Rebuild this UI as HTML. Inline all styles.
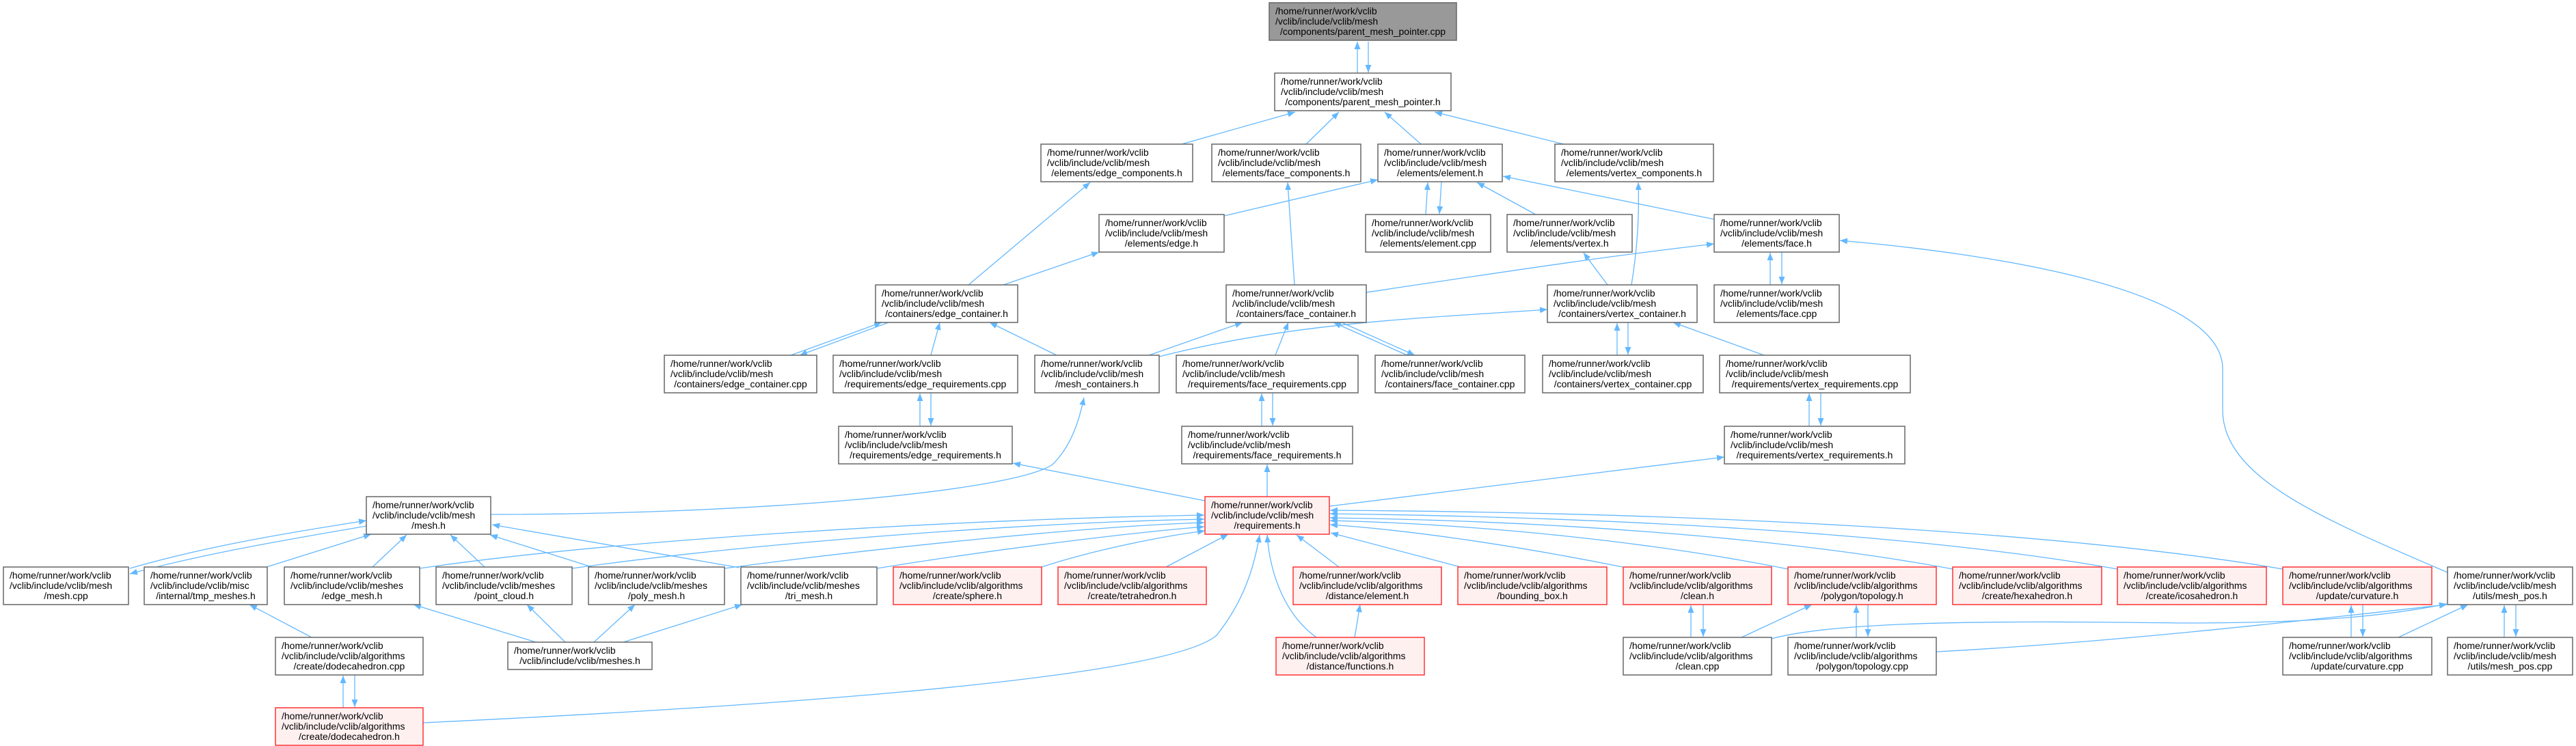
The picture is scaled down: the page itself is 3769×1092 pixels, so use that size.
<!DOCTYPE html>
<html><head><meta charset="utf-8"><style>
html,body{margin:0;padding:0;background:#fff;}
svg{display:block;}
text{font-family:"Liberation Sans",sans-serif;font-size:14px;fill:#000;}
.n{fill:#fff;stroke:#666;stroke-width:1.5;}
.r{fill:#fff0f0;stroke:#f33;stroke-width:1.5;}
.g{fill:#999;stroke:#666;stroke-width:1.5;}
.e{fill:none;stroke:#63b8ff;stroke-width:1.3;marker-end:url(#a);}
.m{text-anchor:middle;}
</style></head><body>
<svg width="3769" height="1092" viewBox="0 0 3769 1092" xmlns="http://www.w3.org/2000/svg">
<defs><marker id="a" markerUnits="userSpaceOnUse" markerWidth="12" markerHeight="9" refX="11" refY="4.5" orient="auto"><path d="M0,0 L11,4.5 L0,9 z" fill="#63b8ff"/></marker></defs>

<!-- edges -->
<path class="e" d="M1986,107 L1986,61"/>
<path class="e" d="M2002,61 L2002,106"/>
<path class="e" d="M1729,211 L1895,164"/>
<path class="e" d="M1911,211 L1959,164"/>
<path class="e" d="M2079,211 L2026,164"/>
<path class="e" d="M2288,211 L2099,164"/>
<path class="e" d="M1791,316 L2016,263"/>
<path class="e" d="M2086,314 L2089,267"/>
<path class="e" d="M2109,266 L2106,313"/>
<path class="e" d="M2247,314 L2161,267"/>
<path class="e" d="M2508,321 L2199,258"/>
<path class="e" d="M1417,417 L1595,267"/>
<path class="e" d="M1468,417 L1608,369"/>
<path class="e" d="M1894,417 L1884,267"/>
<path class="e" d="M1999,428 C2200,398 2350,375 2508,357"/>
<path class="e" d="M2352,417 L2317,370"/>
<path class="e" d="M2387,417 C2398,350 2398,300 2397,267"/>
<path class="e" d="M2590,417 L2590,370"/>
<path class="e" d="M2607,369 L2607,416"/>
<path class="e" d="M3581,838 C3400,760 3252,700 3252,600 L3252,540 C3252,420 2900,370 2692,352"/>
<path class="e" d="M1157,520 L1290,472"/>
<path class="e" d="M1300,472 L1170,520"/>
<path class="e" d="M1362,520 L1375,472"/>
<path class="e" d="M1546,520 L1448,472"/>
<path class="e" d="M1681,520 L1818,472"/>
<path class="e" d="M1696,522 C1900,470 2100,465 2264,453"/>
<path class="e" d="M1866,520 L1885,472"/>
<path class="e" d="M2059,520 L1951,472"/>
<path class="e" d="M1963,472 L2070,520"/>
<path class="e" d="M2366,520 L2366,473"/>
<path class="e" d="M2382,472 L2382,519"/>
<path class="e" d="M2581,520 L2448,472"/>
<path class="e" d="M1346,624 L1346,576"/>
<path class="e" d="M1362,575 L1362,623"/>
<path class="e" d="M1846,624 L1846,576"/>
<path class="e" d="M1862,575 L1862,623"/>
<path class="e" d="M2647,624 L2647,576"/>
<path class="e" d="M2664,575 L2664,623"/>
<path class="e" d="M718,753 C1100,753 1480,720 1540,680 C1570,650 1580,610 1586,582"/>
<path class="e" d="M1763,733 L1482,678"/>
<path class="e" d="M1854,727 L1854,680"/>
<path class="e" d="M1945,741 L2523,669"/>
<path class="e" d="M190,832 C300,800 420,780 536,762"/>
<path class="e" d="M536,770 C420,790 300,810 190,840"/>
<path class="e" d="M390,830 L543,782"/>
<path class="e" d="M545,830 L595,783"/>
<path class="e" d="M709,830 L659,783"/>
<path class="e" d="M866,830 L717,783"/>
<path class="e" d="M1082,831 L720,768"/>
<path class="e" d="M614,832 C900,790 1400,760 1762,754"/>
<path class="e" d="M837,832 C1100,795 1500,765 1762,760"/>
<path class="e" d="M1060,832 C1300,800 1600,770 1762,765"/>
<path class="e" d="M1283,832 C1450,805 1650,780 1762,771"/>
<path class="e" d="M1524,830 C1600,805 1700,785 1763,777"/>
<path class="e" d="M1706,830 L1797,782"/>
<path class="e" d="M1959,830 L1897,783"/>
<path class="e" d="M2137,830 L1947,780"/>
<path class="e" d="M2374,830 C2200,795 2050,775 1946,768"/>
<path class="e" d="M2616,833 C2400,790 2150,767 1946,762"/>
<path class="e" d="M2857,833 C2600,785 2250,762 1946,758"/>
<path class="e" d="M3098,833 C2800,780 2350,757 1946,752"/>
<path class="e" d="M3340,833 C3000,775 2450,750 1946,747"/>
<path class="e" d="M1926,933 C1880,900 1858,840 1854,783"/>
<path class="e" d="M1982,933 L1990,885"/>
<path class="e" d="M619,1058 C1000,1040 1700,1000 1780,930 C1820,880 1835,830 1843,783"/>
<path class="e" d="M502,1036 L502,989"/>
<path class="e" d="M519,988 L519,1035"/>
<path class="e" d="M456,933 L365,885"/>
<path class="e" d="M784,940 L605,885"/>
<path class="e" d="M827,940 L771,885"/>
<path class="e" d="M869,940 L929,885"/>
<path class="e" d="M912,940 L1086,885"/>
<path class="e" d="M2474,933 L2474,886"/>
<path class="e" d="M2492,885 L2492,932"/>
<path class="e" d="M2548,933 L2651,885"/>
<path class="e" d="M2592,935 C2700,905 3000,910 3200,912 C3400,912 3500,900 3580,884"/>
<path class="e" d="M2716,933 L2716,886"/>
<path class="e" d="M2733,885 L2733,932"/>
<path class="e" d="M2833,954 C3100,940 3400,905 3580,885"/>
<path class="e" d="M3440,933 L3440,886"/>
<path class="e" d="M3457,885 L3457,932"/>
<path class="e" d="M3509,933 L3611,885"/>
<path class="e" d="M3664,933 L3664,886"/>
<path class="e" d="M3681,885 L3681,932"/>

<!-- nodes -->
<rect class="g" x="1857" y="4" width="274" height="55"/>
<text x="1866" y="21">/home/runner/work/vclib</text><text x="1866" y="36">/vclib/include/vclib/mesh</text><text class="m" x="1994" y="51">/components/parent_mesh_pointer.cpp</text>

<rect class="n" x="1865" y="107" width="258" height="55"/>
<text x="1874" y="124">/home/runner/work/vclib</text><text x="1874" y="139">/vclib/include/vclib/mesh</text><text class="m" x="1994" y="154">/components/parent_mesh_pointer.h</text>

<rect class="n" x="1523" y="211" width="222" height="55"/>
<text x="1532" y="228">/home/runner/work/vclib</text><text x="1532" y="243">/vclib/include/vclib/mesh</text><text class="m" x="1634" y="258">/elements/edge_components.h</text>

<rect class="n" x="1773" y="211" width="218" height="55"/>
<text x="1782" y="228">/home/runner/work/vclib</text><text x="1782" y="243">/vclib/include/vclib/mesh</text><text class="m" x="1882" y="258">/elements/face_components.h</text>

<rect class="n" x="2016" y="211" width="182" height="55"/>
<text x="2025" y="228">/home/runner/work/vclib</text><text x="2025" y="243">/vclib/include/vclib/mesh</text><text class="m" x="2107" y="258">/elements/element.h</text>

<rect class="n" x="2275" y="211" width="232" height="55"/>
<text x="2284" y="228">/home/runner/work/vclib</text><text x="2284" y="243">/vclib/include/vclib/mesh</text><text class="m" x="2391" y="258">/elements/vertex_components.h</text>

<rect class="n" x="1608" y="314" width="183" height="55"/>
<text x="1617" y="331">/home/runner/work/vclib</text><text x="1617" y="346">/vclib/include/vclib/mesh</text><text class="m" x="1699.5" y="361">/elements/edge.h</text>

<rect class="n" x="1998" y="314" width="183" height="55"/>
<text x="2007" y="331">/home/runner/work/vclib</text><text x="2007" y="346">/vclib/include/vclib/mesh</text><text class="m" x="2089.5" y="361">/elements/element.cpp</text>

<rect class="n" x="2205" y="314" width="183" height="55"/>
<text x="2214" y="331">/home/runner/work/vclib</text><text x="2214" y="346">/vclib/include/vclib/mesh</text><text class="m" x="2296.5" y="361">/elements/vertex.h</text>

<rect class="n" x="2508" y="314" width="183" height="55"/>
<text x="2517" y="331">/home/runner/work/vclib</text><text x="2517" y="346">/vclib/include/vclib/mesh</text><text class="m" x="2599.5" y="361">/elements/face.h</text>

<rect class="n" x="1281" y="417" width="208" height="55"/>
<text x="1290" y="434">/home/runner/work/vclib</text><text x="1290" y="449">/vclib/include/vclib/mesh</text><text class="m" x="1385" y="464">/containers/edge_container.h</text>

<rect class="n" x="1794" y="417" width="205" height="55"/>
<text x="1803" y="434">/home/runner/work/vclib</text><text x="1803" y="449">/vclib/include/vclib/mesh</text><text class="m" x="1896.5" y="464">/containers/face_container.h</text>

<rect class="n" x="2264" y="417" width="219" height="55"/>
<text x="2273" y="434">/home/runner/work/vclib</text><text x="2273" y="449">/vclib/include/vclib/mesh</text><text class="m" x="2373.5" y="464">/containers/vertex_container.h</text>

<rect class="n" x="2508" y="417" width="183" height="55"/>
<text x="2517" y="434">/home/runner/work/vclib</text><text x="2517" y="449">/vclib/include/vclib/mesh</text><text class="m" x="2599.5" y="464">/elements/face.cpp</text>

<rect class="n" x="972" y="520" width="223" height="55"/>
<text x="981" y="537">/home/runner/work/vclib</text><text x="981" y="552">/vclib/include/vclib/mesh</text><text class="m" x="1083.5" y="567">/containers/edge_container.cpp</text>

<rect class="n" x="1219" y="520" width="270" height="55"/>
<text x="1228" y="537">/home/runner/work/vclib</text><text x="1228" y="552">/vclib/include/vclib/mesh</text><text class="m" x="1354" y="567">/requirements/edge_requirements.cpp</text>

<rect class="n" x="1514" y="520" width="182" height="55"/>
<text x="1523" y="537">/home/runner/work/vclib</text><text x="1523" y="552">/vclib/include/vclib/mesh</text><text class="m" x="1605" y="567">/mesh_containers.h</text>

<rect class="n" x="1721" y="520" width="266" height="55"/>
<text x="1730" y="537">/home/runner/work/vclib</text><text x="1730" y="552">/vclib/include/vclib/mesh</text><text class="m" x="1854" y="567">/requirements/face_requirements.cpp</text>

<rect class="n" x="2012" y="520" width="219" height="55"/>
<text x="2021" y="537">/home/runner/work/vclib</text><text x="2021" y="552">/vclib/include/vclib/mesh</text><text class="m" x="2121.5" y="567">/containers/face_container.cpp</text>

<rect class="n" x="2257" y="520" width="235" height="55"/>
<text x="2266" y="537">/home/runner/work/vclib</text><text x="2266" y="552">/vclib/include/vclib/mesh</text><text class="m" x="2374.5" y="567">/containers/vertex_container.cpp</text>

<rect class="n" x="2516" y="520" width="279" height="55"/>
<text x="2525" y="537">/home/runner/work/vclib</text><text x="2525" y="552">/vclib/include/vclib/mesh</text><text class="m" x="2655.5" y="567">/requirements/vertex_requirements.cpp</text>

<rect class="n" x="1227" y="624" width="254" height="55"/>
<text x="1236" y="641">/home/runner/work/vclib</text><text x="1236" y="656">/vclib/include/vclib/mesh</text><text class="m" x="1354" y="671">/requirements/edge_requirements.h</text>

<rect class="n" x="1729" y="624" width="250" height="55"/>
<text x="1738" y="641">/home/runner/work/vclib</text><text x="1738" y="656">/vclib/include/vclib/mesh</text><text class="m" x="1854" y="671">/requirements/face_requirements.h</text>

<rect class="n" x="2523" y="624" width="264" height="55"/>
<text x="2532" y="641">/home/runner/work/vclib</text><text x="2532" y="656">/vclib/include/vclib/mesh</text><text class="m" x="2655" y="671">/requirements/vertex_requirements.h</text>

<rect class="n" x="536" y="727" width="182" height="55"/>
<text x="545" y="744">/home/runner/work/vclib</text><text x="545" y="759">/vclib/include/vclib/mesh</text><text class="m" x="627" y="774">/mesh.h</text>

<rect class="r" x="1763" y="727" width="182" height="55"/>
<text x="1772" y="744">/home/runner/work/vclib</text><text x="1772" y="759">/vclib/include/vclib/mesh</text><text class="m" x="1854" y="774">/requirements.h</text>

<rect class="n" x="5" y="830" width="183" height="55"/>
<text x="14" y="847">/home/runner/work/vclib</text><text x="14" y="862">/vclib/include/vclib/mesh</text><text class="m" x="96.5" y="877">/mesh.cpp</text>

<rect class="n" x="211" y="830" width="180" height="55"/>
<text x="220" y="847">/home/runner/work/vclib</text><text x="220" y="862">/vclib/include/vclib/misc</text><text class="m" x="301" y="877">/internal/tmp_meshes.h</text>

<rect class="n" x="416" y="830" width="198" height="55"/>
<text x="425" y="847">/home/runner/work/vclib</text><text x="425" y="862">/vclib/include/vclib/meshes</text><text class="m" x="515" y="877">/edge_mesh.h</text>

<rect class="n" x="638" y="830" width="199" height="55"/>
<text x="647" y="847">/home/runner/work/vclib</text><text x="647" y="862">/vclib/include/vclib/meshes</text><text class="m" x="737.5" y="877">/point_cloud.h</text>

<rect class="n" x="861" y="830" width="199" height="55"/>
<text x="870" y="847">/home/runner/work/vclib</text><text x="870" y="862">/vclib/include/vclib/meshes</text><text class="m" x="960.5" y="877">/poly_mesh.h</text>

<rect class="n" x="1084" y="830" width="199" height="55"/>
<text x="1093" y="847">/home/runner/work/vclib</text><text x="1093" y="862">/vclib/include/vclib/meshes</text><text class="m" x="1183.5" y="877">/tri_mesh.h</text>

<rect class="r" x="1307" y="830" width="217" height="55"/>
<text x="1316" y="847">/home/runner/work/vclib</text><text x="1316" y="862">/vclib/include/vclib/algorithms</text><text class="m" x="1415.5" y="877">/create/sphere.h</text>

<rect class="r" x="1548" y="830" width="217" height="55"/>
<text x="1557" y="847">/home/runner/work/vclib</text><text x="1557" y="862">/vclib/include/vclib/algorithms</text><text class="m" x="1656.5" y="877">/create/tetrahedron.h</text>

<rect class="r" x="1892" y="830" width="217" height="55"/>
<text x="1901" y="847">/home/runner/work/vclib</text><text x="1901" y="862">/vclib/include/vclib/algorithms</text><text class="m" x="2000.5" y="877">/distance/element.h</text>

<rect class="r" x="2133" y="830" width="218" height="55"/>
<text x="2142" y="847">/home/runner/work/vclib</text><text x="2142" y="862">/vclib/include/vclib/algorithms</text><text class="m" x="2242" y="877">/bounding_box.h</text>

<rect class="r" x="2375" y="830" width="217" height="55"/>
<text x="2384" y="847">/home/runner/work/vclib</text><text x="2384" y="862">/vclib/include/vclib/algorithms</text><text class="m" x="2483.5" y="877">/clean.h</text>

<rect class="r" x="2616" y="830" width="217" height="55"/>
<text x="2625" y="847">/home/runner/work/vclib</text><text x="2625" y="862">/vclib/include/vclib/algorithms</text><text class="m" x="2724.5" y="877">/polygon/topology.h</text>

<rect class="r" x="2857" y="830" width="218" height="55"/>
<text x="2866" y="847">/home/runner/work/vclib</text><text x="2866" y="862">/vclib/include/vclib/algorithms</text><text class="m" x="2966" y="877">/create/hexahedron.h</text>

<rect class="r" x="3098" y="830" width="218" height="55"/>
<text x="3107" y="847">/home/runner/work/vclib</text><text x="3107" y="862">/vclib/include/vclib/algorithms</text><text class="m" x="3207" y="877">/create/icosahedron.h</text>

<rect class="r" x="3340" y="830" width="218" height="55"/>
<text x="3349" y="847">/home/runner/work/vclib</text><text x="3349" y="862">/vclib/include/vclib/algorithms</text><text class="m" x="3449" y="877">/update/curvature.h</text>

<rect class="n" x="3581" y="830" width="183" height="55"/>
<text x="3590" y="847">/home/runner/work/vclib</text><text x="3590" y="862">/vclib/include/vclib/mesh</text><text class="m" x="3672.5" y="877">/utils/mesh_pos.h</text>

<rect class="n" x="403" y="933" width="216" height="55"/>
<text x="412" y="950">/home/runner/work/vclib</text><text x="412" y="965">/vclib/include/vclib/algorithms</text><text class="m" x="511" y="980">/create/dodecahedron.cpp</text>

<rect class="n" x="743" y="940" width="211" height="40"/>
<text x="752" y="957">/home/runner/work/vclib</text><text class="m" x="848.5" y="972">/vclib/include/vclib/meshes.h</text>

<rect class="r" x="1867" y="933" width="217" height="55"/>
<text x="1876" y="950">/home/runner/work/vclib</text><text x="1876" y="965">/vclib/include/vclib/algorithms</text><text class="m" x="1975.5" y="980">/distance/functions.h</text>

<rect class="n" x="2375" y="933" width="217" height="55"/>
<text x="2384" y="950">/home/runner/work/vclib</text><text x="2384" y="965">/vclib/include/vclib/algorithms</text><text class="m" x="2483.5" y="980">/clean.cpp</text>

<rect class="n" x="2616" y="933" width="217" height="55"/>
<text x="2625" y="950">/home/runner/work/vclib</text><text x="2625" y="965">/vclib/include/vclib/algorithms</text><text class="m" x="2724.5" y="980">/polygon/topology.cpp</text>

<rect class="n" x="3340" y="933" width="218" height="55"/>
<text x="3349" y="950">/home/runner/work/vclib</text><text x="3349" y="965">/vclib/include/vclib/algorithms</text><text class="m" x="3449" y="980">/update/curvature.cpp</text>

<rect class="n" x="3581" y="933" width="183" height="55"/>
<text x="3590" y="950">/home/runner/work/vclib</text><text x="3590" y="965">/vclib/include/vclib/mesh</text><text class="m" x="3672.5" y="980">/utils/mesh_pos.cpp</text>

<rect class="r" x="403" y="1036" width="216" height="55"/>
<text x="412" y="1053">/home/runner/work/vclib</text><text x="412" y="1068">/vclib/include/vclib/algorithms</text><text class="m" x="511" y="1083">/create/dodecahedron.h</text>
</svg>
</body></html>
